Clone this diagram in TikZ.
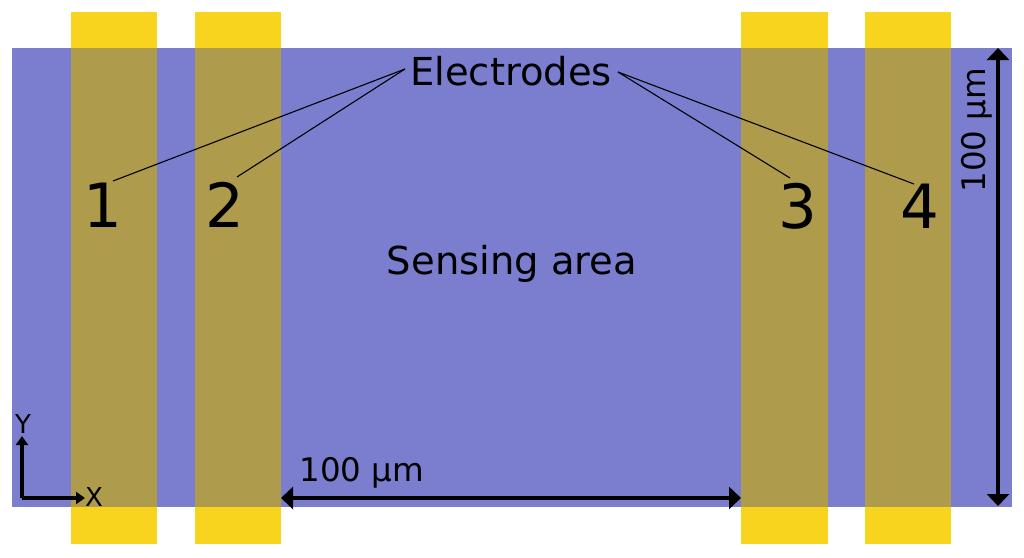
\documentclass[tikz,border=0pt]{standalone}
\usepackage{fontspec}
\setmainfont{DejaVu Sans}
\usetikzlibrary{arrows.meta}
\definecolor{sens}{HTML}{7B7ECE}
\definecolor{gold}{HTML}{F8D41E}
\definecolor{overlap}{HTML}{AE9B4B}
\begin{document}
\begin{tikzpicture}[x=1pt,y=-1pt,
  digit/.style={inner sep=0pt,font=\fontsize{61}{64}\selectfont},
  biglabel/.style={inner sep=0pt,anchor=base,font=\fontsize{38.5}{42}\selectfont},
  dimlabel/.style={inner sep=0pt,anchor=base,font=\fontsize{32.5}{36}\selectfont},
  axislabel/.style={inner sep=0pt,font=\fontsize{26}{28}\selectfont},
  leader/.style={draw=black,line width=1.1pt},
  dimarrow/.style={line width=3.8pt,{Triangle[length=12pt,width=22pt]}-{Triangle[length=12pt,width=22pt]}},
  axisarrow/.style={line width=3.2pt,-{Triangle[length=9pt,width=12pt]}}]
\useasboundingbox (0,0) rectangle (1024,557);
% sensing area
\fill[sens] (12,48) rectangle (1012,507);
% electrodes
\foreach \a/\b in {71/157,195/281,741/828,865/951}{
  \fill[gold] (\a,12) rectangle (\b,544);
  \fill[overlap] (\a,48) rectangle (\b,507);
}
% labels
\node[biglabel] (el) at (511,85) {Electrodes};
\node[biglabel] (sa) at (512,274) {Sensing area};
\node[digit] (n1) at (103,205) {1};
\node[digit] (n2) at (225,205) {2};
\node[digit] (n3) at (798,206) {3};
\node[digit] (n4) at (920,206) {4};
% leader lines
\coordinate (lL) at (405,69);
\coordinate (lR) at (618,72);
\coordinate (e1) at (113,181);
\coordinate (e2) at (237,177);
\coordinate (e3) at (790,178);
\coordinate (e4) at (914,184);
\draw[leader] (lL) -- (e1);
\draw[leader] (lL) -- (e2);
\draw[leader] (lR) -- (e3);
\draw[leader] (lR) -- (e4);
% dimension arrows
\coordinate (hA) at (281,498);
\coordinate (hB) at (741,498);
\draw[dimarrow] (hA) -- (hB);
\node[dimlabel] (hl) at (362,481) {100 µm};
\coordinate (vA) at (998,48);
\coordinate (vB) at (998,506);
\draw[dimarrow] (vA) -- (vB);
\node[dimlabel,rotate=90] (vl) at (985,130) {100 µm};
% axes
\coordinate (o) at (22,498);
\coordinate (ya) at (22,436);
\coordinate (xa) at (85,498);
\draw[axisarrow] (o) -- (ya);
\draw[axisarrow] (o) -- (xa);
\node[axislabel] (yl) at (23,424) {Y};
\node[axislabel] (xl) at (94,497) {X};
\end{tikzpicture}
\end{document}
